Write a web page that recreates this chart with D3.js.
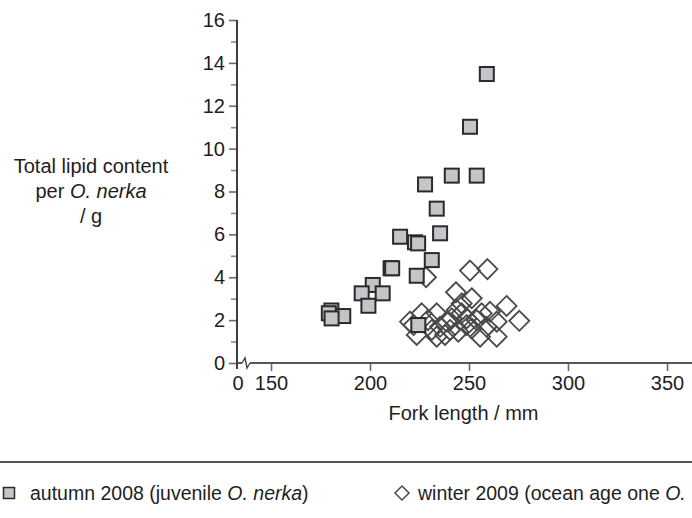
<!DOCTYPE html>
<html>
<head>
<meta charset="utf-8">
<script src="https://cdn.jsdelivr.net/npm/d3@7"></script>
<style>
  html, body { margin: 0; padding: 0; background: #fff; overflow: hidden; }
  svg { display: block; font-family: "Liberation Sans", Arial, sans-serif; }
  text { fill: #1e1e1e; }
</style>
</head>
<body>
<svg id="chart" width="692" height="518"></svg>
<script>
// Fork length (mm) and total lipid content (g) per fish
const autumnLength = [259, 250.5, 241.3, 253.9, 227.8, 233.7, 215.2, 222.7, 224.3, 235.4,
                      231.2, 210.4, 211.2, 223.6, 201.4, 195.8, 206.4, 199.2,
                      180.5, 179.2, 186.5, 180.6, 224.4];
const autumnLipid  = [13.48, 11.02, 8.74, 8.74, 8.33, 7.2, 5.89, 5.63, 5.58, 6.05,
                      4.8, 4.42, 4.42, 4.07, 3.64, 3.25, 3.25, 2.67,
                      2.45, 2.32, 2.19, 2.08, 1.77];

const winterLength = [250.5, 259.3, 228.3, 243.4, 251.4, 269, 275.4, 246.3, 243.8, 220.2,
                      226.1, 233.7, 241.3, 248.8, 256.4, 260.6, 264, 223.6, 231.2, 237.9,
                      244.6, 251.4, 255.6, 264, 235.4, 240.4, 258.9, 248.8, 229.3, 238.7,
                      253.9, 246.3, 233.7, 222.0];
const winterLipid  = [4.31, 4.38, 4.0, 3.3, 3.02, 2.66, 1.97, 2.78, 2.47, 1.93,
                      2.32, 2.32, 2.08, 2.08, 2.32, 2.39, 1.93, 1.31, 1.54, 1.31,
                      1.46, 1.61, 1.23, 1.23, 1.69, 1.54, 1.69, 1.77, 2.0, 1.93,
                      2.0, 2.32, 1.23, 1.77];

const xTicks = [150, 200, 250, 300, 350];
const yMajor = [0, 2, 4, 6, 8, 10, 12, 14, 16];
const yMinor = [1, 3, 5, 7, 9, 11, 13, 15];

const yLabelLines = ["Total lipid content", "per |O. nerka|", "/ g"];
const xLabel = "Fork length / mm";
const legendAutumn = ["autumn 2008 (juvenile ", "O. nerka", ")"];
const legendWinter = ["winter 2009 (ocean age one ", "O."];

const svg = d3.select("#chart");
const axisColor = "#2b2b2b";
const tickColor = "#6a6a6a";
const fontSize = 20;
const legendFont = 19.5;

const originX = 237;          // position of the broken-axis origin
const x = d3.scaleLinear().domain([150, 350]).range([271, 667]);
const y = d3.scaleLinear().domain([0, 16]).range([363, 20]);

// y axis: major ticks with labels, minor ticks without
const yAxis = svg.append("g").attr("transform", `translate(${originX},0)`)
  .call(d3.axisLeft(y).tickValues(yMajor).tickSize(8).tickSizeOuter(0).tickPadding(4));
yAxis.select(".domain").remove();
yAxis.selectAll(".tick line").attr("stroke", tickColor).attr("stroke-width", 1.6);
yAxis.selectAll(".tick text").style("font-size", fontSize + "px").attr("fill", "#1e1e1e")
  .style("font-family", "'Liberation Sans', Arial, sans-serif");

const yMinorAxis = svg.append("g").attr("transform", `translate(${originX},0)`)
  .call(d3.axisLeft(y).tickValues(yMinor).tickSize(6).tickFormat(""));
yMinorAxis.select(".domain").remove();
yMinorAxis.selectAll(".tick line").attr("stroke", "#8a8a8a").attr("stroke-width", 1.6);

svg.append("line")
  .attr("x1", originX).attr("x2", originX)
  .attr("y1", y(16)).attr("y2", y(0) + 6)
  .attr("stroke", axisColor).attr("stroke-width", 1.8);

// x axis with a break between 0 and 150
const xAxis = svg.append("g").attr("transform", `translate(0,${y(0)})`)
  .call(d3.axisBottom(x).tickValues(xTicks).tickSize(8).tickSizeOuter(0).tickPadding(5));
xAxis.select(".domain").remove();
xAxis.selectAll(".tick line").attr("stroke", tickColor).attr("stroke-width", 1.6);
xAxis.selectAll(".tick text").style("font-size", fontSize + "px").attr("fill", "#1e1e1e")
  .style("font-family", "'Liberation Sans', Arial, sans-serif");

svg.append("line")
  .attr("x1", originX).attr("x2", 692)
  .attr("y1", y(0)).attr("y2", y(0))
  .attr("stroke", "#555").attr("stroke-width", 1.8);

svg.append("text")
  .attr("x", originX + 1).attr("y", y(0) + 13)
  .attr("dy", "0.71em").attr("text-anchor", "middle")
  .style("font-size", fontSize + "px").text("0");

// break mark on the x axis
svg.append("rect").attr("x", originX + 5).attr("y", y(0) - 2).attr("width", 8).attr("height", 4).attr("fill", "#fff");
svg.append("path")
  .attr("d", `M${originX + 5},${y(0)} L${originX + 8},${y(0) - 5} L${originX + 10},${y(0) + 5} L${originX + 13},${y(0)}`)
  .attr("fill", "none").attr("stroke", "#444").attr("stroke-width", 1.4);

// axis titles
const yTitle = svg.append("text").attr("text-anchor", "middle").style("font-size", fontSize + "px");
yLabelLines.forEach((line, i) => {
  const parts = line.split("|");
  parts.forEach((p, j) => {
    if (!p) return;
    const t = yTitle.append("tspan").text(p);
    if (j === 0) t.attr("x", 91).attr("y", 173 + i * 25);
    if (j === 1) t.style("font-style", "italic");
  });
});

svg.append("text")
  .attr("x", (originX + 692) / 2 - 1).attr("y", 420)
  .attr("text-anchor", "middle").style("font-size", fontSize + "px")
  .text(xLabel);

// data points
const half = 7;
svg.append("g").selectAll("path")
  .data(d3.range(winterLength.length))
  .join("path")
  .attr("transform", i => `translate(${x(winterLength[i])},${y(winterLipid[i])})`)
  .attr("d", "M0,-10 L10,0 L0,10 L-10,0 Z")
  .attr("fill", "none").attr("stroke", "#4a4a4a").attr("stroke-width", 1.8);

svg.append("g").selectAll("rect")
  .data(d3.range(autumnLength.length))
  .join("rect")
  .attr("x", i => x(autumnLength[i]) - half)
  .attr("y", i => y(autumnLipid[i]) - half)
  .attr("width", half * 2).attr("height", half * 2)
  .attr("fill", "#c3c5c9").attr("stroke", "#2a2a2a").attr("stroke-width", 2);

// legend
svg.append("line").attr("x1", 0).attr("x2", 692).attr("y1", 462).attr("y2", 462)
  .attr("stroke", "#555").attr("stroke-width", 2);

svg.append("rect").attr("x", 3.5).attr("y", 487.5).attr("width", 11).attr("height", 11)
  .attr("fill", "#c3c5c9").attr("stroke", "#2a2a2a").attr("stroke-width", 1.5);

function legendText(xPos, parts) {
  const t = svg.append("text").attr("x", xPos).attr("y", 500).style("font-size", legendFont + "px");
  parts.forEach((p, i) => {
    const s = t.append("tspan").text(p);
    if (i === 1) s.style("font-style", "italic");
  });
}
legendText(30, legendAutumn);

svg.append("path")
  .attr("transform", "translate(402,493)")
  .attr("d", "M0,-7 L7,0 L0,7 L-7,0 Z")
  .attr("fill", "none").attr("stroke", "#4a4a4a").attr("stroke-width", 1.5);
legendText(418, legendWinter);
</script>
</body>
</html>
